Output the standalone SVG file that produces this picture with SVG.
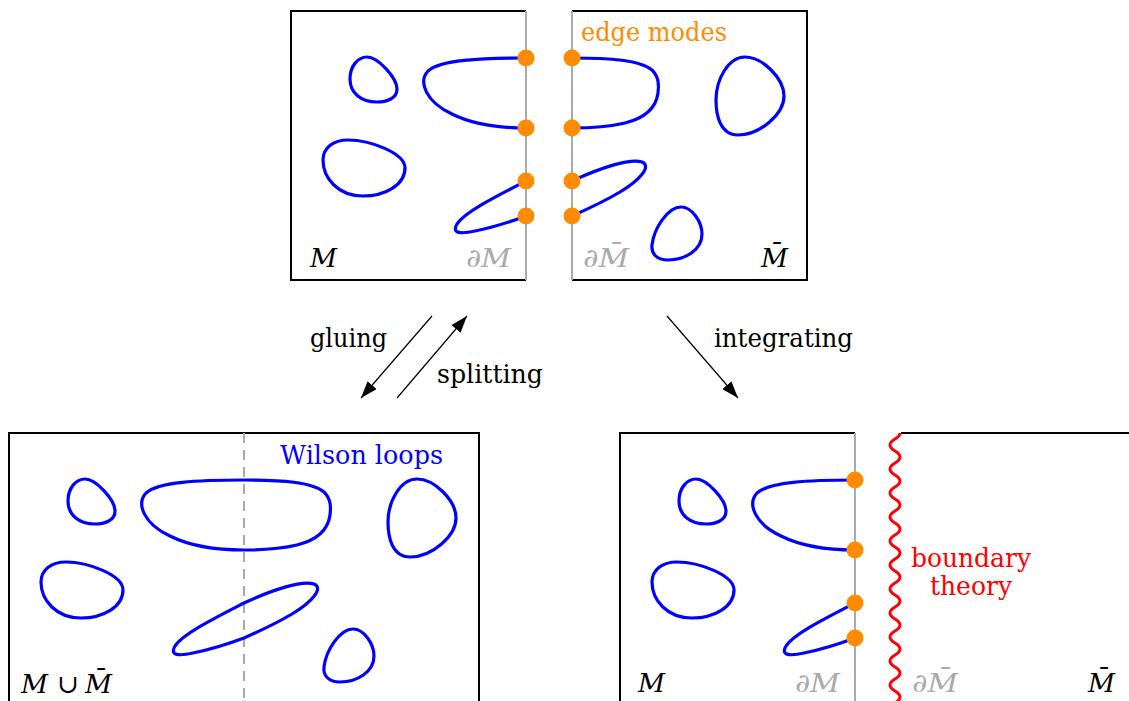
<svg xmlns="http://www.w3.org/2000/svg" xmlns:xlink="http://www.w3.org/1999/xlink" width="1129" height="701" viewBox="0 0 1129 701">
<style>
.frame{fill:none;stroke:#000;stroke-width:2}
.bd{fill:none;stroke:#aaaaaa;stroke-width:2}
.loop{fill:none;stroke:#0000ff;stroke-width:3.2;stroke-linejoin:round;stroke-linecap:round}
.dot{fill:#ff8c00}
.txt{font-family:"DejaVu Serif","Liberation Serif",serif;font-size:26px}
.math{font-family:"DejaVu Serif","Liberation Serif",serif;font-size:26px;font-style:italic}
.gray{fill:#aaaaaa}
.conn{stroke:#000;stroke-width:1.2;fill:none}
</style>
<defs>
<marker id="ah" markerUnits="userSpaceOnUse" markerWidth="18" markerHeight="12" refX="17" refY="6" orient="auto">
<path d="M0,0 L17,6 L0,12 Z" fill="#000"/>
</marker>
<path id="T" d="M367,57 C378,57 397,78 397,89 C397,99 386,102 377,102 C361,102 350,93 350,79 C350,66 358,57 367,57 Z"/>
<path id="UL" d="M526,58 C480,58 440,60 428,71 C418,82 426,102 452,114 C472,124 500,128 526,128"/>
<path id="C" d="M348,140 C370,140 405,153 405,168 C405,185 385,196 363,196 C338,196 323,178 323,160 C323,148 333,140 348,140 Z"/>
<path id="D" d="M526,181 C495,197 465,212 457,224 C451,234 462,234 475,231 C490,228 510,222 526,216"/>
<path id="UR" d="M572,58 C610,58 640,60 652,70 C659,77 659,85 658,93 C656,108 645,118 625,123 C608,127 590,128 572,128"/>
<path id="E" d="M572,181 C600,168 630,158 642,162 C652,166 640,180 620,192 C605,201 590,208 572,216"/>
<path id="F" d="M745,57 C762,57 784,78 784,96 C784,114 760,135 738,135 C720,135 716,115 716,100 C716,80 728,57 745,57 Z"/>
<path id="G" d="M681,207 C692,207 702,222 702,234 C702,250 685,260 668,260 C656,260 651,253 652,245 C654,228 668,207 681,207 Z"/>
</defs>

<g id="top-left-M">
<path class="frame" d="M526,11 H291 V280 H526"/>
<line class="bd" x1="526" y1="11" x2="526" y2="280"/>
<use xlink:href="#T" class="loop"/>
<use xlink:href="#UL" class="loop"/>
<use xlink:href="#C" class="loop"/>
<use xlink:href="#D" class="loop"/>
<circle class="dot" cx="526" cy="58" r="8.5"/>
<circle class="dot" cx="526" cy="128" r="8.5"/>
<circle class="dot" cx="526" cy="181" r="8.5"/>
<circle class="dot" cx="526" cy="216" r="8.5"/>
<text class="math" x="310" y="267" textLength="27" lengthAdjust="spacingAndGlyphs">M</text>
<text class="math gray" x="466" y="267" textLength="45" lengthAdjust="spacingAndGlyphs">∂M</text>
</g>

<g id="top-right-Mbar">
<path class="frame" d="M572,11 H807 V280 H572"/>
<line class="bd" x1="572" y1="11" x2="572" y2="280"/>
<use xlink:href="#UR" class="loop"/>
<use xlink:href="#E" class="loop"/>
<use xlink:href="#F" class="loop"/>
<use xlink:href="#G" class="loop"/>
<circle class="dot" cx="572" cy="58" r="8.5"/>
<circle class="dot" cx="572" cy="128" r="8.5"/>
<circle class="dot" cx="572" cy="181" r="8.5"/>
<circle class="dot" cx="572" cy="216" r="8.5"/>
<text class="txt" x="581" y="41" fill="#ff8c00" textLength="146" lengthAdjust="spacingAndGlyphs">edge modes</text>
<text class="math gray" x="583" y="267" textLength="46" lengthAdjust="spacingAndGlyphs">∂M&#x304;</text>
<text class="math" x="761" y="267" textLength="27" lengthAdjust="spacingAndGlyphs">M&#x304;</text>
</g>

<g id="bottom-left-glued">
<path class="frame" d="M9,705 V433 H479 V705"/>
<line x1="244" y1="433" x2="244" y2="705" stroke="#aaaaaa" stroke-width="2" stroke-dasharray="10,7"/>
<use xlink:href="#T" class="loop" transform="translate(-282,422)"/>
<use xlink:href="#C" class="loop" transform="translate(-282,422)"/>
<use xlink:href="#F" class="loop" transform="translate(-328,422)"/>
<use xlink:href="#G" class="loop" transform="translate(-328,422)"/>
<path class="loop" d="M244,480 C198,480 158,482 146,493 C136,504 144,524 170,536 C190,546 218,550 244,550 C262,550 280,549 297,545 C317,540 328,530 330,515 C331,507 331,499 324,492 C312,482 282,480 244,480 Z"/>
<path class="loop" d="M244,603 C213,619 183,634 175,646 C169,656 180,656 193,653 C208,650 228,644 244,638 C262,630 277,623 292,614 C312,602 324,588 314,584 C302,580 272,590 244,603 Z"/>
<text class="txt" x="280" y="464" fill="#0000ff" textLength="163" lengthAdjust="spacingAndGlyphs">Wilson loops</text>
<text class="math" x="21" y="693" textLength="27" lengthAdjust="spacingAndGlyphs">M</text>
<text class="txt" x="57" y="693">∪</text>
<text class="math" x="85" y="693" textLength="27" lengthAdjust="spacingAndGlyphs">M&#x304;</text>
</g>

<g id="bottom-right-integrated">
<path class="frame" d="M855,433 H620 V705"/>
<line class="bd" x1="855" y1="433" x2="855" y2="705"/>
<g transform="translate(329,422)">
<use xlink:href="#T" class="loop"/>
<use xlink:href="#UL" class="loop"/>
<use xlink:href="#C" class="loop"/>
<use xlink:href="#D" class="loop"/>
<circle class="dot" cx="526" cy="58" r="8.5"/>
<circle class="dot" cx="526" cy="128" r="8.5"/>
<circle class="dot" cx="526" cy="181" r="8.5"/>
<circle class="dot" cx="526" cy="216" r="8.5"/>
</g>
<path class="frame" d="M901,433 H1131"/>
<path d="M900,433 c0,6 -10,6 -10,12 s10,6 10,12 s-10,6 -10,12 s10,6 10,12 s-10,6 -10,12 s10,6 10,12 s-10,6 -10,12 s10,6 10,12 s-10,6 -10,12 s10,6 10,12 s-10,6 -10,12 s10,6 10,12 s-10,6 -10,12 s10,6 10,12 s-10,6 -10,12 s10,6 10,12 s-10,6 -10,12 s10,6 10,12 s-10,6 -10,12 s10,6 10,12 s-10,6 -10,12 s10,6 10,12 s-10,6 -10,12 s10,6 10,12" fill="none" stroke="#ff0000" stroke-width="3"/>
<text class="txt" x="911" y="567" fill="#ff0000" textLength="120" lengthAdjust="spacingAndGlyphs">boundary</text>
<text class="txt" x="930" y="595" fill="#ff0000" textLength="82" lengthAdjust="spacingAndGlyphs">theory</text>
<text class="math" x="638" y="692" textLength="27" lengthAdjust="spacingAndGlyphs">M</text>
<text class="math gray" x="795" y="692" textLength="45" lengthAdjust="spacingAndGlyphs">∂M</text>
<text class="math gray" x="912" y="692" textLength="46" lengthAdjust="spacingAndGlyphs">∂M&#x304;</text>
<text class="math" x="1088" y="692" textLength="27" lengthAdjust="spacingAndGlyphs">M&#x304;</text>
</g>

<g id="connectors">
<line class="conn" x1="432" y1="316" x2="361" y2="398" marker-end="url(#ah)"/>
<line class="conn" x1="397" y1="398" x2="467" y2="316" marker-end="url(#ah)"/>
<line class="conn" x1="667" y1="316" x2="738" y2="398" marker-end="url(#ah)"/>
<text class="txt" x="310" y="347" textLength="77" lengthAdjust="spacingAndGlyphs">gluing</text>
<text class="txt" x="437" y="383" textLength="106" lengthAdjust="spacingAndGlyphs">splitting</text>
<text class="txt" x="714" y="347" textLength="139" lengthAdjust="spacingAndGlyphs">integrating</text>
</g>
</svg>
